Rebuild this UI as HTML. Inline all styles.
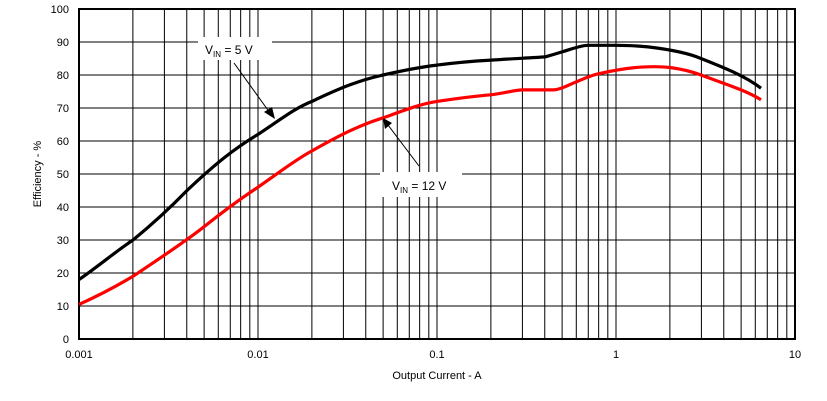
<!DOCTYPE html>
<html><head><meta charset="utf-8"><style>
html,body{margin:0;padding:0;background:#fff;}
svg{display:block;font-family:"Liberation Sans",sans-serif;}
</style></head><body>
<svg id="s" width="827" height="401" viewBox="0 0 827 401" xmlns="http://www.w3.org/2000/svg">
<g id="grid" stroke="#000" stroke-width="1"></g>
<rect x="79" y="9" width="716" height="330" fill="none" stroke="#000" stroke-width="2"/>
<g id="lbl" font-size="11" fill="#000"></g>
<path d="M79,279.6 C100,265 115,252 133,240 C155,222 170,208 187,190.5 C215,164 235,148 258,134.4 C280,120 295,108 312,101.4 C340,88 360,80 383,75 C405,70 420,67 437,65.1 C460,62 475,61 491,60.1 C515,58.5 530,58 545,56.9 C552,55 557,53.5 562,51.9 C572,49 580,45.5 588,45.3 L616,45.3 C630,45.5 640,46 648,46.9 C670,49.5 688,53 701,58.5 C725,68 745,76 761,88.2" fill="none" stroke="#000" stroke-width="3.2"/>
<path d="M79,304.4 C100,295 115,287 133,276.3 C160,258 185,242 204,226.8 C225,210 240,199 258,187.2 C280,172 295,160 312,150.9 C340,135 360,125 383,117.9 C405,110 420,104 437,101.4 C460,98 475,96 491,94.8 C505,93 513,90.5 522,89.9 L554,89.9 C563,89 570,84 577,81.6 C585,78 592,75 600,73.4 C620,69 635,67 648,66.8 C658,66.5 664,66.8 670,67.5 C685,69.5 693,72 701,75 C725,84 745,90 761,99.75" fill="none" stroke="#f00" stroke-width="3.2"/>
<rect x="198" y="37" width="74" height="23" fill="#fff"/>
<text x="205" y="54" font-size="12">V<tspan font-size="8" dy="3">IN</tspan><tspan dy="-3"> = 5 V</tspan></text>
<line x1="234" y1="63" x2="270" y2="113" stroke="#000" stroke-width="1"/>
<polygon points="275,119 264,112 272,107" fill="#000"/>
<rect x="380" y="172" width="82" height="25" fill="#fff"/>
<text x="392" y="190" font-size="12">V<tspan font-size="8" dy="3">IN</tspan><tspan dy="-3"> = 12 V</tspan></text>
<line x1="419" y1="166" x2="388" y2="125" stroke="#000" stroke-width="1"/>
<polygon points="383,118 392,123 385,129" fill="#000"/>
<text x="437" y="379" font-size="11" text-anchor="middle">Output Current - A</text>
<text transform="translate(41,174) rotate(-90)" font-size="11" text-anchor="middle">Efficiency - %</text>
</svg>
<script>
var g=document.getElementById('grid'),l=document.getElementById('lbl'),ns='http://www.w3.org/2000/svg';
function ln(x1,y1,x2,y2){var e=document.createElementNS(ns,'line');e.setAttribute('x1',x1);e.setAttribute('y1',y1);e.setAttribute('x2',x2);e.setAttribute('y2',y2);g.appendChild(e);}
function tx(x,y,t,a){var e=document.createElementNS(ns,'text');e.setAttribute('x',x);e.setAttribute('y',y);e.setAttribute('text-anchor',a);e.textContent=t;l.appendChild(e);}
for(var i=0;i<=10;i++){var y=339-33*i;ln(79,y,795,y);tx(69,y+4,String(i*10),'end');}
var labs=['0.001','0.01','0.1','1','10'];
for(var d=0;d<4;d++){for(var k=1;k<10;k++){var x=79+179*d+179*Math.log10(k);ln(x,9,x,339);}}
for(var d=0;d<=4;d++){tx(79+179*d,358,labs[d],'middle');}
</script>
</body></html>
